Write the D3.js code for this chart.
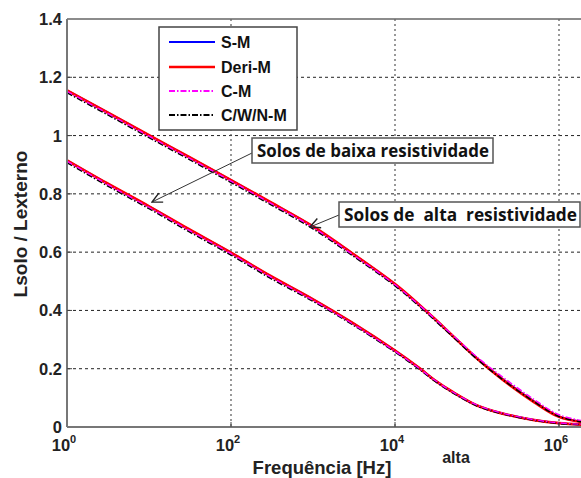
<!DOCTYPE html>
<html><head><meta charset="utf-8">
<script src="https://cdn.jsdelivr.net/npm/d3@7/dist/d3.min.js"></script>
<style>
html,body{margin:0;padding:0;background:#fff;}
svg{display:block;}
</style></head>
<body>
<svg id="chart" width="581" height="478"></svg>
<script>
// ---- data ----
const freqs = [1, 3, 10, 30, 100, 300, 1e3, 3e3, 1e4, 2e4, 3e4, 5e4, 1e5, 2e5, 5e5, 1e6, 2e6];
const altaSM   = [1.155, 1.082, 1.001, 0.928, 0.847, 0.772, 0.688, 0.596, 0.490, 0.418, 0.373, 0.314, 0.236, 0.167, 0.087, 0.036, 0.017];
const altaDeri = [1.155, 1.082, 1.001, 0.928, 0.847, 0.772, 0.688, 0.596, 0.490, 0.418, 0.373, 0.314, 0.235, 0.165, 0.085, 0.035, 0.016];
const altaCM   = [1.152, 1.079, 0.998, 0.925, 0.844, 0.769, 0.685, 0.593, 0.488, 0.417, 0.373, 0.316, 0.240, 0.174, 0.094, 0.042, 0.021];
const altaCWN  = [1.147, 1.074, 0.993, 0.920, 0.839, 0.764, 0.680, 0.589, 0.484, 0.413, 0.368, 0.311, 0.233, 0.165, 0.086, 0.036, 0.017];
const baixaSM   = [0.915, 0.838, 0.757, 0.680, 0.598, 0.519, 0.438, 0.358, 0.262, 0.201, 0.162, 0.121, 0.074, 0.047, 0.024, 0.013, 0.008];
const baixaDeri = [0.915, 0.838, 0.757, 0.680, 0.598, 0.519, 0.438, 0.358, 0.262, 0.201, 0.162, 0.121, 0.074, 0.047, 0.024, 0.013, 0.008];
const baixaCM   = [0.912, 0.835, 0.754, 0.677, 0.595, 0.516, 0.435, 0.355, 0.260, 0.200, 0.162, 0.121, 0.075, 0.048, 0.025, 0.014, 0.009];
const baixaCWN  = [0.907, 0.830, 0.749, 0.672, 0.590, 0.511, 0.431, 0.352, 0.257, 0.197, 0.159, 0.118, 0.072, 0.046, 0.023, 0.012, 0.008];
const seriesNames = ["S-M", "Deri-M", "C-M", "C/W/N-M"];
const yTicks = [0, 0.2, 0.4, 0.6, 0.8, 1, 1.2, 1.4];
const xTickExps = [0, 2, 4, 6];
const xTitle = "Frequência [Hz]";
const yTitle = "Lsolo / Lexterno";
const note1 = "Solos de baixa resistividade";
const note2 = "Solos de  alta  resistividade";
const extraLabel = "alta";

// ---- layout ----
const svg = d3.select("#chart");
const L = 67, T = 19, B = 427;
const x = d3.scaleLog().domain([1, Math.pow(10, 6.3)]).range([L, L + 6.3 * 82]);
const y = d3.scaleLinear().domain([0, 1.4]).range([B, T]);
const R = x.range()[1];
const font = "'Liberation Sans', Arial, sans-serif";

svg.append("defs").append("clipPath").attr("id", "clip")
  .append("rect").attr("x", L).attr("y", T).attr("width", R - L).attr("height", B - T);

// grid
const grid = svg.append("g");
grid.selectAll("line.h").data(yTicks.filter(d => d > 0 && d < 1.4)).join("line")
  .attr("x1", L).attr("x2", R).attr("y1", d => y(d)).attr("y2", d => y(d))
  .attr("stroke", "#222").attr("stroke-width", 1).attr("stroke-dasharray", "3,3");
grid.selectAll("line.v").data(xTickExps.filter(e => e > 0)).join("line")
  .attr("x1", e => x(Math.pow(10, e))).attr("x2", e => x(Math.pow(10, e)))
  .attr("y1", T).attr("y2", B)
  .attr("stroke", "#555").attr("stroke-width", 1.2).attr("stroke-dasharray", "2,3");

// curves
const line = d3.line().x((d, i) => x(freqs[i])).y(d => y(d)).curve(d3.curveCatmullRom.alpha(0.5));
const styles = [
  {color: "#0000ff", w: 2, dash: null},
  {color: "#ff0000", w: 2.8, dash: null},
  {color: "#ff00ff", w: 1.4, dash: "6,2,1.5,2"},
  {color: "#000000", w: 1.5, dash: "6,2,1.5,2"}
];
const curves = svg.append("g").attr("clip-path", "url(#clip)");
const sets = [[altaSM, altaDeri, altaCM, altaCWN], [baixaSM, baixaDeri, baixaCM, baixaCWN]];
const order = [0, 1, 3, 2];
sets.forEach(set => {
  order.forEach(k => {
    curves.append("path").attr("d", line(set[k])).attr("fill", "none")
      .attr("stroke", styles[k].color).attr("stroke-width", styles[k].w)
      .attr("stroke-dasharray", styles[k].dash);
  });
});

// axes frame
svg.append("line").attr("x1", L).attr("x2", R).attr("y1", T).attr("y2", T).attr("stroke", "#666").attr("stroke-width", 1.5);
svg.append("line").attr("x1", L).attr("x2", L).attr("y1", T).attr("y2", B).attr("stroke", "#777").attr("stroke-width", 2);
svg.append("line").attr("x1", L).attr("x2", R).attr("y1", B).attr("y2", B).attr("stroke", "#777").attr("stroke-width", 2);

// y tick labels
svg.append("g").selectAll("text").data(yTicks).join("text")
  .attr("x", 62).attr("y", d => y(d) + 6).attr("text-anchor", "end")
  .attr("font-family", font).attr("font-weight", "bold").attr("font-size", 16.5).attr("fill", "#222")
  .text(d => d === 0 ? "0" : (d === 1 ? "1" : d3.format(".1f")(d)));
// small tick marks
svg.append("g").selectAll("line").data(yTicks.filter(d => d > 0 && d < 1.4)).join("line")
  .attr("x1", L).attr("x2", L + 5).attr("y1", d => y(d)).attr("y2", d => y(d)).attr("stroke", "#444");
svg.append("g").selectAll("line").data(xTickExps.filter(e => e > 0)).join("line")
  .attr("x1", e => x(Math.pow(10, e))).attr("x2", e => x(Math.pow(10, e)))
  .attr("y1", B).attr("y2", B - 5).attr("stroke", "#444");

// x tick labels
const xt = svg.append("g").selectAll("text").data(xTickExps).join("text")
  .attr("x", e => x(Math.pow(10, e)) - 3).attr("y", 451).attr("text-anchor", "middle")
  .attr("font-family", font).attr("font-weight", "bold").attr("font-size", 16.5).attr("fill", "#222");
xt.append("tspan").text("10");
xt.append("tspan").attr("dy", -8).attr("font-size", 11).text(e => e);

// axis titles
svg.append("text").attr("x", 322).attr("y", 474).attr("text-anchor", "middle")
  .attr("font-family", font).attr("font-weight", "bold").attr("font-size", 18.5).attr("fill", "#222").text(xTitle);
svg.append("text").attr("transform", "translate(27,224) rotate(-90)").attr("text-anchor", "middle")
  .attr("font-family", font).attr("font-weight", "bold").attr("font-size", 19).attr("fill", "#222").text(yTitle);
svg.append("text").attr("x", 456).attr("y", 463).attr("text-anchor", "middle")
  .attr("font-family", font).attr("font-weight", "bold").attr("font-size", 16).attr("fill", "#222").text(extraLabel);

// legend
const lg = svg.append("g");
lg.append("rect").attr("x", 159).attr("y", 27).attr("width", 138).attr("height", 103)
  .attr("fill", "#fff").attr("stroke", "#444").attr("stroke-width", 1.5);
const rowsY = [42, 67, 91, 115];
seriesNames.forEach((n, i) => {
  lg.append("line").attr("x1", 169).attr("x2", 215).attr("y1", rowsY[i]).attr("y2", rowsY[i])
    .attr("stroke", styles[i].color).attr("stroke-width", i === 1 ? 2.4 : 2)
    .attr("stroke-dasharray", styles[i].dash);
  lg.append("text").attr("x", 221).attr("y", rowsY[i] + 6).attr("font-family", font)
    .attr("font-weight", "bold").attr("font-size", 16).attr("fill", "#111").text(n);
});

// annotations
const defs = svg.select("defs");
defs.append("marker").attr("id", "arr").attr("viewBox", "0 0 12 12").attr("refX", 11).attr("refY", 6)
  .attr("markerWidth", 12).attr("markerHeight", 12).attr("markerUnits", "userSpaceOnUse").attr("orient", "auto")
  .append("path").attr("d", "M1,1 L11,6 L1,11").attr("fill", "none").attr("stroke", "#222").attr("stroke-width", 1.4);

const ann = svg.append("g");
ann.append("line").attr("x1", 252).attr("y1", 153).attr("x2", 152).attr("y2", 202)
  .attr("stroke", "#333").attr("stroke-width", 1).attr("marker-end", "url(#arr)");
ann.append("line").attr("x1", 339).attr("y1", 215).attr("x2", 310).attr("y2", 227)
  .attr("stroke", "#333").attr("stroke-width", 1).attr("marker-end", "url(#arr)");

function box(x0, y0, w, h, txt, tl) {
  ann.append("rect").attr("x", x0).attr("y", y0).attr("width", w).attr("height", h)
    .attr("fill", "#fff").attr("stroke", "#555").attr("stroke-width", 1.5);
  ann.append("text").attr("x", x0 + 5).attr("y", y0 + h / 2 + 6)
    .attr("font-family", "'Open Sans', 'DejaVu Sans', sans-serif").attr("font-weight", "bold")
    .attr("font-size", 17).attr("fill", "#111").attr("xml:space", "preserve").style("white-space", "pre")
    .attr("textLength", tl).attr("lengthAdjust", "spacingAndGlyphs").text(txt);
}
box(252, 138, 241, 25, note1, 232);
box(339, 202, 241, 25, note2, 233);
</script>
</body></html>
